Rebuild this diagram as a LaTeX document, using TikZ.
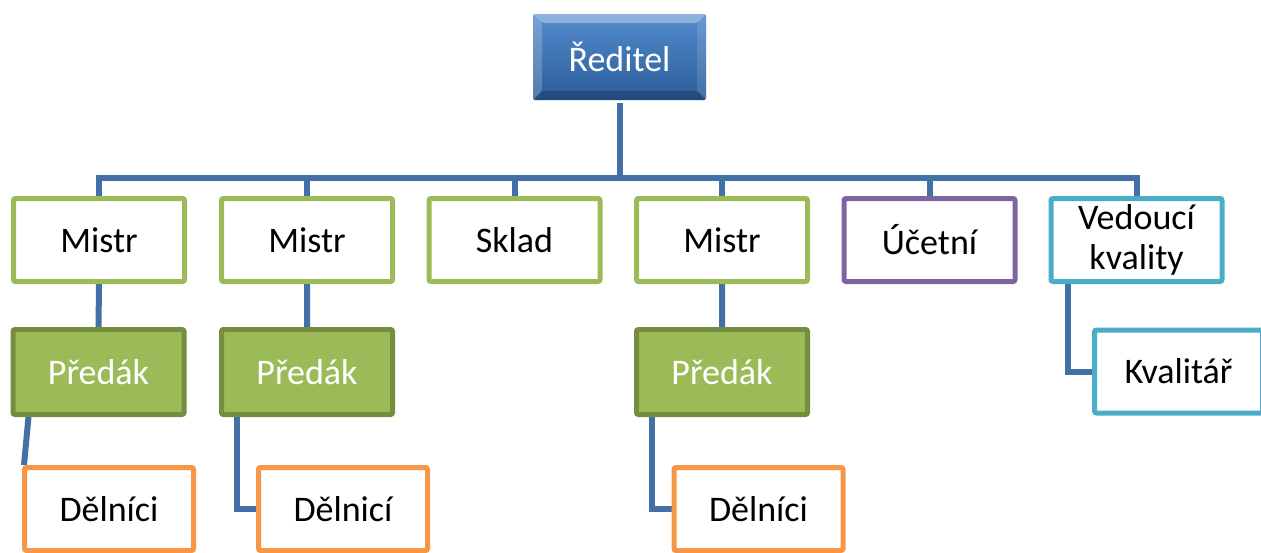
\documentclass[tikz,border=0pt]{standalone}
\usepackage{fontspec}
\setmainfont{Carlito}
\usetikzlibrary{backgrounds}
\definecolor{linkblue}{RGB}{68,112,168}
\definecolor{mgreen}{RGB}{155,187,89}
\definecolor{pborder}{RGB}{118,140,62}
\definecolor{dorange}{RGB}{247,150,70}
\definecolor{upurple}{RGB}{128,100,162}
\definecolor{vteal}{RGB}{75,172,198}
\definecolor{headtop}{RGB}{84,140,206}
\definecolor{headbot}{RGB}{42,92,152}

\begin{document}
\begin{tikzpicture}[x=1pt,y=-1pt,
  box/.style={draw,line width=5pt,fill=white,rounded corners=2pt,
    minimum width=171pt,minimum height=83pt,inner sep=2pt,
    font=\fontsize{36}{40}\selectfont,align=center},
  mistr/.style={box,draw=mgreen},
  predak/.style={box,draw=pborder,fill=mgreen,text=white,minimum height=85pt},
  delnik/.style={box,draw=dorange,minimum width=169pt},
  head/.style={box,draw=none,top color=headtop,bottom color=headbot,
    text=white,minimum width=173pt,minimum height=86pt,
    path picture={
      \fill[white,opacity=.35] (path picture bounding box.north west)
        -- (path picture bounding box.north east)
        -- ([shift={(-9,9)}]path picture bounding box.north east)
        -- ([shift={(9,9)}]path picture bounding box.north west) -- cycle;
      \fill[white,opacity=.2] (path picture bounding box.north west)
        -- ([shift={(9,9)}]path picture bounding box.north west)
        -- ([shift={(9,-9)}]path picture bounding box.south west)
        -- (path picture bounding box.south west) -- cycle;
      \fill[white,opacity=.12] (path picture bounding box.north east)
        -- ([shift={(-9,9)}]path picture bounding box.north east)
        -- ([shift={(-9,-9)}]path picture bounding box.south east)
        -- (path picture bounding box.south east) -- cycle;
      \fill[black,opacity=.2] (path picture bounding box.south west)
        -- ([shift={(9,-9)}]path picture bounding box.south west)
        -- ([shift={(-9,-9)}]path picture bounding box.south east)
        -- (path picture bounding box.south east) -- cycle;
    }},
  link/.style={draw=linkblue,line width=6pt}
  ]
  \useasboundingbox (0,0) rectangle (1261,552);

  \node[head] (reditel) at (619.5,57) {Ředitel};

  % first row
  \node[mistr] (m1) at (99,240) {Mistr};
  \node[mistr] (m2) at (307,240) {Mistr};
  \node[mistr] (sklad) at (514.5,240) {Sklad};
  \node[mistr] (m3) at (722,240) {Mistr};
  \node[box,draw=upurple] (ucetni) at (929.5,240) {Účetní};
  \node[box,draw=vteal] (vk) at (1136.5,240) {Vedoucí\\kvality};

  % second row
  \node[predak] (p1) at (98.5,372) {Předák};
  \node[predak] (p2) at (307,372) {Předák};
  \node[predak] (p3) at (722,372) {Předák};
  \node[box,draw=vteal,minimum width=168pt] (kval) at (1178.5,371.5) {Kvalitář};

  % third row
  \node[delnik] (d1) at (109,509) {Dělníci};
  \node[delnik] (d2) at (343,509) {Dělnicí};
  \node[delnik] (d3) at (758.5,509) {Dělníci};

  \begin{scope}[on background layer]
    \coordinate (bus) at (619.5,178);
    \draw[link] (reditel) -- (bus);
    \foreach \n in {m1,m2,sklad,m3,ucetni,vk}
      \draw[link] (bus) -| (\n.north);
    \draw[link] (m1) -- (p1) (m2) -- (p2) (m3) -- (p3);
    \draw[link] ([xshift=18]p1.south west) -- ([xshift=2]d1.north west);
    \draw[link] ([xshift=18]p2.south west) |- (d2.west);
    \draw[link] ([xshift=18]p3.south west) |- (d3.west);
    \draw[link] ([xshift=19]vk.south west) |- (kval.west);
  \end{scope}
\end{tikzpicture}
\end{document}
